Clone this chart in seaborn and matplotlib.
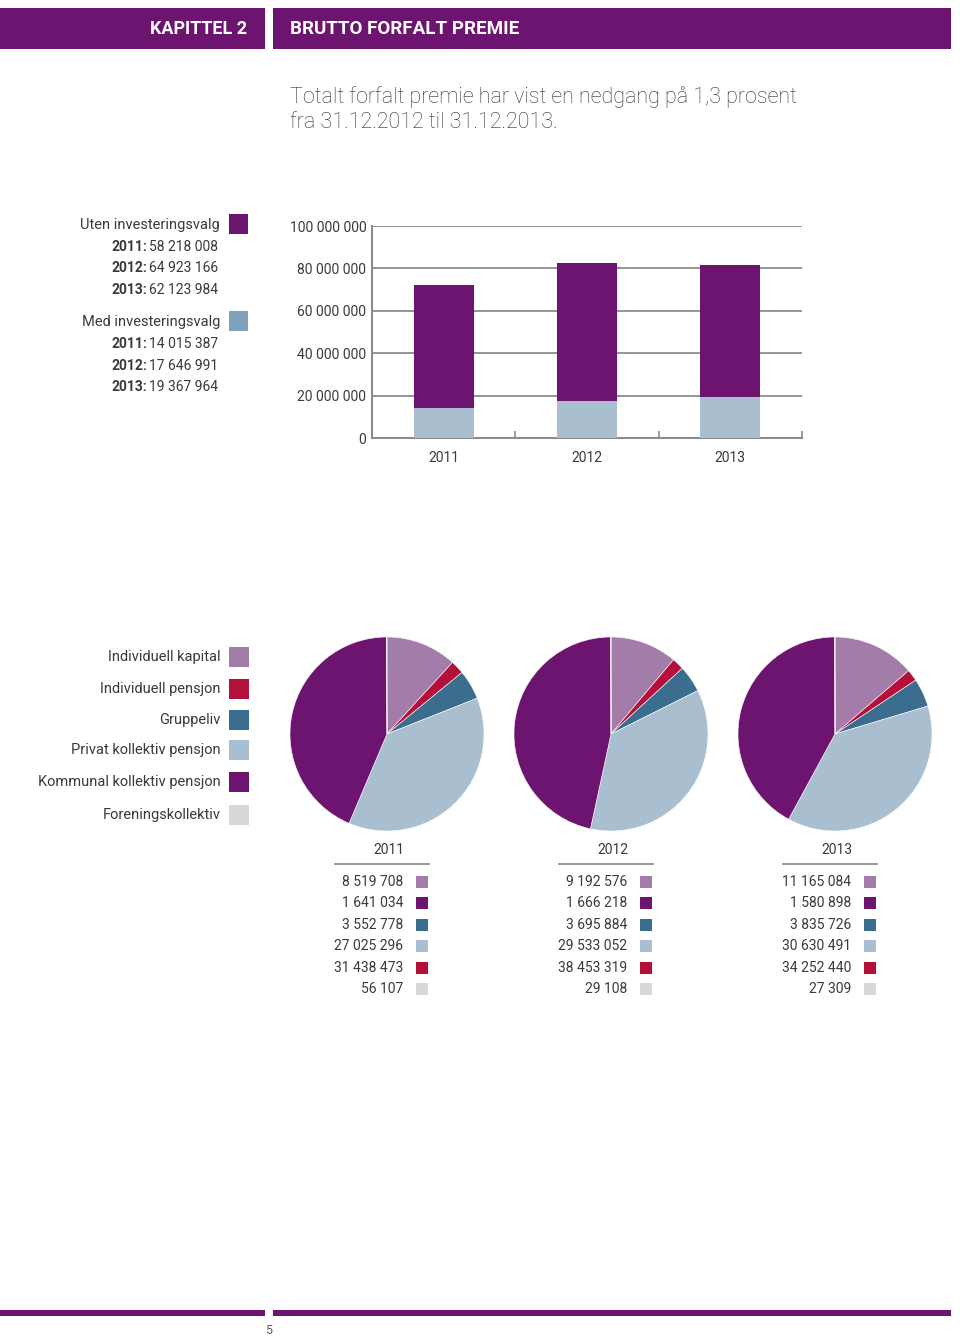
import numpy as np
import matplotlib
matplotlib.use("Agg")
import matplotlib.pyplot as plt
import pandas as pd
import seaborn as sns

# data
years = ["2011", "2012", "2013"]
uten = [58218008, 64923166, 62123984]
med = [14015387, 17646991, 19367964]

kategorier = ["Individuell kapital", "Individuell pensjon", "Gruppeliv",
              "Privat kollektiv pensjon", "Kommunal kollektiv pensjon", "Foreningskollektiv"]
ind_kapital = [8519708, 9192576, 11165084]
ind_pensjon = [1641034, 1666218, 1580898]
gruppeliv = [3552778, 3695884, 3835726]
privat_koll = [27025296, 29533052, 30630491]
kommunal_koll = [31438473, 38453319, 34252440]
forening = [56107, 29108, 27309]

yticks = [0, 20000000, 40000000, 60000000, 80000000, 100000000]

PURPLE = "#6d1470"
LPURPLE = "#a47caa"
RED = "#b5103c"
BLUE = "#3a6d8e"
LBLUE = "#a9bfcf"
GRAY = "#d8d8d8"
LEG_BLUE = "#7ea2bb"
TXT = "#3a3a3a"

sns.set_theme(style="white")
plt.rcParams['font.family'] = ['Roboto', 'DejaVu Sans']

W, H = 960, 1344
fig = plt.figure(figsize=(9.6, 13.44), dpi=100)


def fx(x):
    return x / W


def fy(y):
    return 1 - y / H


def rect(x0, y0, x1, y1, color):
    fig.patches.append(plt.Rectangle((fx(x0), fy(y1)), (x1 - x0) / W, (y1 - y0) / H,
                                     transform=fig.transFigure, color=color, lw=0))


def fmt(v):
    return f"{v:,}".replace(",", " ")


FS = 10.5
NS = 10

# header
rect(0, 8, 265, 49, PURPLE)
rect(273, 8, 951, 49, PURPLE)
fig.text(fx(247), fy(29), "KAPITTEL 2", color="white", fontsize=13, fontweight="bold",
         ha="right", va="center")
fig.text(fx(290), fy(29), "BRUTTO FORFALT PREMIE", color="white", fontsize=13.5,
         fontweight="bold", ha="left", va="center")
fig.text(fx(290), fy(97), "Totalt forfalt premie har vist en nedgang på 1,3 prosent",
         color="#2e2e2e", fontsize=15.5, fontweight="light", ha="left", va="center")
fig.text(fx(290), fy(122), "fra 31.12.2012 til 31.12.2013.",
         color="#2e2e2e", fontsize=15.5, fontweight="light", ha="left", va="center")

# bar chart legend
fig.text(fx(220), fy(225), "Uten investeringsvalg", color=TXT, fontsize=FS, ha="right", va="center")
rect(229, 214, 248, 234, PURPLE)
for i, yr in enumerate(years):
    yy = 247 + i * 21.5
    fig.text(fx(218), fy(yy), fmt(uten[i]), color=TXT, fontsize=NS, ha="right", va="center")
    fig.text(fx(147), fy(yy), yr + ":", color=TXT, fontsize=NS, fontweight="bold",
             ha="right", va="center")
fig.text(fx(220), fy(322), "Med investeringsvalg", color=TXT, fontsize=FS, ha="right", va="center")
rect(229, 311, 248, 331, LEG_BLUE)
for i, yr in enumerate(years):
    yy = 344 + i * 21.5
    fig.text(fx(218), fy(yy), fmt(med[i]), color=TXT, fontsize=NS, ha="right", va="center")
    fig.text(fx(147), fy(yy), yr + ":", color=TXT, fontsize=NS, fontweight="bold",
             ha="right", va="center")

# stacked bar chart
bar_df = pd.DataFrame({"year": years, "uten": uten, "med": med})
bar_df["total"] = bar_df["uten"] + bar_df["med"]
ax = fig.add_axes([fx(372), fy(438), 430 / W, 212 / H])
sns.barplot(data=bar_df, x="year", y="total", color=PURPLE, saturation=1, width=0.42, ax=ax)
sns.barplot(data=bar_df, x="year", y="med", color=LBLUE, saturation=1, width=0.42, ax=ax)
for p in ax.patches:
    p.set_edgecolor("none")
    p.set_zorder(3)
ax.set_xlim(-0.5, 2.5)
ax.set_ylim(0, 100000000)
ax.set_yticks(yticks)
ax.set_yticklabels([fmt(v) for v in yticks], color=TXT, fontsize=NS)
ax.set_xticklabels(years, color=TXT, fontsize=NS)
ax.set_xlabel("")
ax.set_ylabel("")
for v in yticks[1:]:
    ax.axhline(v, color="#8c8c8c", lw=1.3, zorder=1)
ax.set_xticks([0.5, 1.5, 2.5], minor=True)
ax.tick_params(axis="x", which="major", length=0, pad=9)
ax.tick_params(axis="x", which="minor", length=5, direction="in", color="#8c8c8c", width=1.2, bottom=True)
ax.tick_params(axis="y", length=0, pad=4)
for s in ["top", "right"]:
    ax.spines[s].set_visible(False)
for s in ["left", "bottom"]:
    ax.spines[s].set_color("#8c8c8c")
    ax.spines[s].set_linewidth(1.5)

# pie legend
pie_colors = [LPURPLE, RED, BLUE, LBLUE, PURPLE, GRAY]
leg_y = [657, 689, 720, 750, 782, 815]
for lab, c, yy in zip(kategorier, pie_colors, leg_y):
    fig.text(fx(221), fy(yy), lab, color=TXT, fontsize=FS, ha="right", va="center")
    rect(229, yy - 10, 249, yy + 10, c)

# pies
series = [ind_kapital, ind_pensjon, gruppeliv, privat_koll, kommunal_koll, forening]
centers = [387, 611, 835]
for i, cx in enumerate(centers):
    vals = [s[i] for s in series]
    pax = fig.add_axes([fx(cx - 98), fy(734 + 98), 196 / W, 196 / H])
    pax.pie(vals, colors=pie_colors, startangle=90, counterclock=False,
            wedgeprops=dict(linewidth=0.4, edgecolor="white"))
    pax.set_xlim(-1.01, 1.01)
    pax.set_ylim(-1.01, 1.01)
    pax.set_aspect("equal")

# table under pies
table_colors = [LPURPLE, PURPLE, BLUE, LBLUE, RED, GRAY]
row_y = [882, 903, 925, 946, 968, 989]
for i, cx in enumerate(centers):
    hx = cx + 2
    fig.text(fx(hx), fy(850), years[i], color=TXT, fontsize=NS, ha="center", va="center")
    fig.add_artist(plt.Line2D([fx(hx - 54), fx(hx + 40)], [fy(864), fy(864)],
                              color="#9a9a9a", lw=1.5, transform=fig.transFigure))
    for j, s in enumerate(series):
        fig.text(fx(cx + 16), fy(row_y[j]), fmt(s[i]), color=TXT, fontsize=NS,
                 ha="right", va="center")
        rect(cx + 29, row_y[j] - 6, cx + 41, row_y[j] + 6, table_colors[j])

# footer
rect(0, 1310, 265, 1316, PURPLE)
rect(273, 1310, 951, 1316, PURPLE)
fig.text(fx(269), fy(1330), "5", color="#6a4f70", fontsize=9, ha="center", va="center")

fig.savefig("out.png", dpi=100)
